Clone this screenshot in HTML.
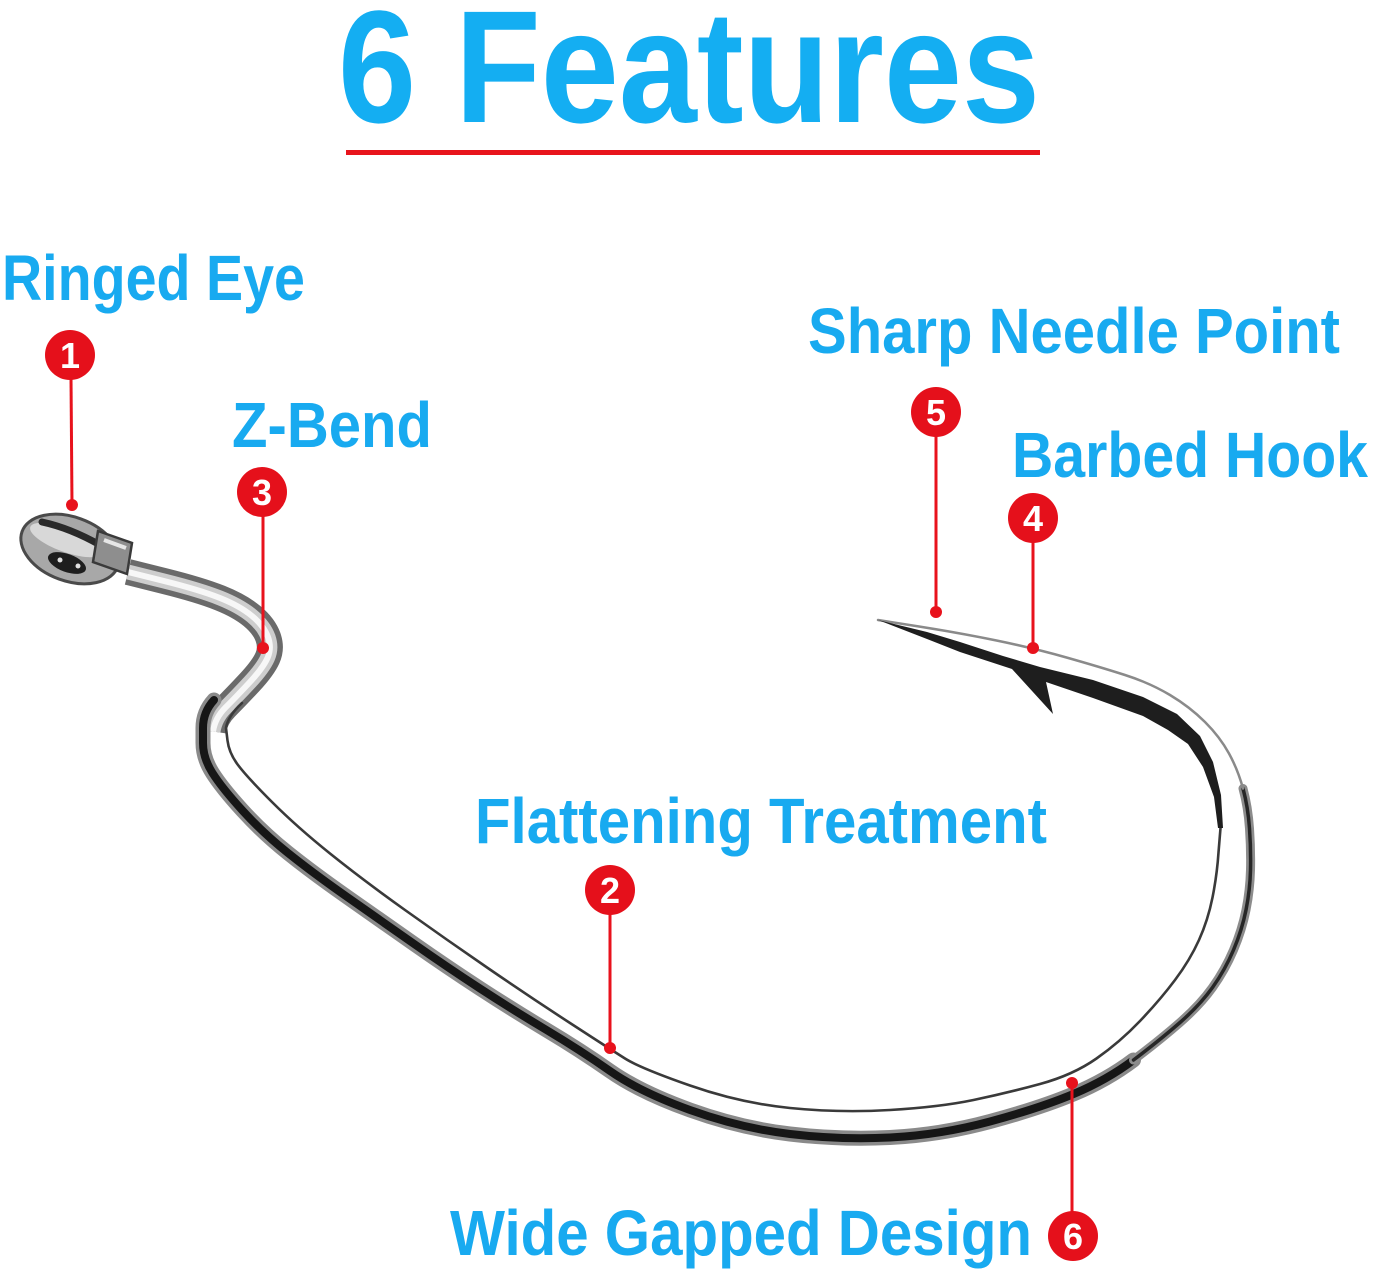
<!DOCTYPE html>
<html>
<head>
<meta charset="utf-8">
<style>
html,body{margin:0;padding:0;background:#fff;}
svg{display:block;}
</style>
</head>
<body>
<svg width="1373" height="1276" viewBox="0 0 1373 1276" xmlns="http://www.w3.org/2000/svg">
<rect x="0" y="0" width="1373" height="1276" fill="#ffffff"/>

<!-- Title -->
<text x="338" y="122" font-family="Liberation Sans, sans-serif" font-size="160" font-weight="bold" fill="#14aef2" textLength="702" lengthAdjust="spacingAndGlyphs">6 Features</text>
<rect x="346" y="150" width="694" height="5" fill="#e8141c"/>

<!-- Labels -->
<g font-family="Liberation Sans, sans-serif" font-size="64" font-weight="bold" fill="#18aaf0">
  <text x="2" y="300" textLength="303" lengthAdjust="spacingAndGlyphs">Ringed Eye</text>
  <text x="232" y="447" textLength="200" lengthAdjust="spacingAndGlyphs">Z-Bend</text>
  <text x="808" y="353" textLength="532" lengthAdjust="spacingAndGlyphs">Sharp Needle Point</text>
  <text x="1012" y="477" textLength="356" lengthAdjust="spacingAndGlyphs">Barbed Hook</text>
  <text x="475" y="843" textLength="572" lengthAdjust="spacingAndGlyphs">Flattening Treatment</text>
  <text x="450" y="1255" textLength="582" lengthAdjust="spacingAndGlyphs">Wide Gapped Design</text>
</g>

<!-- Hook: shank + Z-bend tube -->
<g fill="none" stroke-linecap="butt" stroke-linejoin="round">
  <path d="M128,572 L164,581 Q200,590 220,598 Q240,606 252,616 Q264,626 268,637 Q272,648 267.5,658 Q263,668 249.5,682.5 Q236,697 225.5,707.5 Q215,718 213,731.5" stroke="#6a6a6a" stroke-width="26"/>
  <path d="M128,572 L164,581 Q200,590 220,598 Q240,606 252,616 Q264,626 268,637 Q272,648 267.5,658 Q263,668 249.5,682.5 Q236,697 225.5,707.5 Q215,718 213,731.5" stroke="#cdcdcd" stroke-width="15"/>
  <path d="M128,572 L164,581 Q200,590 220,598 Q240,606 252,616 Q264,626 268,637 Q272,648 267.5,658 Q263,668 249.5,682.5 Q236,697 225.5,707.5 Q215,718 213,731.5" stroke="#f7f7f7" stroke-width="6"/>
</g>
<g fill="none" stroke-linecap="round" stroke-linejoin="round">
  <!-- outer band (descent + bottom) -->
  <path d="M214,700 Q203,712 203,728 L203,743 Q203,758 212.5,773 Q222,788 242.5,810.5 Q263,833 288,853 Q313,873 346.5,896.5 Q380,920 413.5,943.5 Q447,967 480,988.5 Q513,1010 546.5,1030 Q580,1050 610,1071 Q640,1092 690,1110 Q740,1128 790,1134 Q840,1140 890,1137.5 Q940,1135 990,1121.5 Q1040,1108 1073.5,1094 Q1107,1080 1133.5,1060" stroke="#8a8a8a" stroke-width="15"/>
  <path d="M214,700 Q203,712 203,728 L203,743 Q203,758 212.5,773 Q222,788 242.5,810.5 Q263,833 288,853 Q313,873 346.5,896.5 Q380,920 413.5,943.5 Q447,967 480,988.5 Q513,1010 546.5,1030 Q580,1050 610,1071 Q640,1092 690,1110 Q740,1128 790,1134 Q840,1140 890,1137.5 Q940,1135 990,1121.5 Q1040,1108 1073.5,1094 Q1107,1080 1133.5,1060" stroke="#161616" stroke-width="8"/>

  <!-- outer band right side -->
  <path d="M1133.5,1060 Q1160,1040 1180,1022.5 Q1200,1005 1212.5,987.5 Q1225,970 1233.5,950 Q1242,930 1246,910 Q1250,890 1250.5,870 Q1251,850 1249.5,828.5 Q1248,807 1243,788.5" stroke="#8c8c8c" stroke-width="9"/>
  <path d="M1133.5,1060 Q1160,1040 1180,1022.5 Q1200,1005 1212.5,987.5 Q1225,970 1233.5,950 Q1242,930 1246,910 Q1250,890 1250.5,870 Q1251,850 1249.5,828.5 Q1248,807 1243,788.5" stroke="#262626" stroke-width="3.5"/>

  <!-- upper thin line to point -->
  <path d="M1243,788.5 Q1238,770 1229,753.5 Q1220,737 1205,722 Q1190,707 1170,695 Q1150,683 1125,675 Q1100,667 1066.5,657.5 Q1033,648 996.5,640.5 Q960,633 919,626.5 L878,620" stroke="#8a8a8a" stroke-width="2.5"/>

  <!-- inner thin line -->
  <path d="M242,703 Q228,716 226,728 L227.5,740.5 Q229,753 238,765 Q247,777 272,802 Q297,827 330,853.5 Q363,880 405,910 Q447,940 488.5,968.5 Q530,997 570,1023 Q610,1049 625,1058.5 Q640,1068 690,1085.5 Q740,1103 790,1108 Q840,1113 890,1110 Q940,1107 973.5,1100 Q1007,1093 1040,1084 Q1073,1075 1096.5,1058.5 Q1120,1042 1140,1021 Q1160,1000 1175,980 Q1190,960 1199,940 Q1208,920 1212.5,897.5 Q1217,875 1218.5,852.5 L1221,822" stroke="#3a3a3a" stroke-width="2.6"/>
</g>

<!-- thick black band with barb near point -->
<path d="M878,620 L927,632 L960,642 L1003,656 L1040,667 L1093,680 L1143,697 L1177,714 L1200,736 L1213,762 L1221,795 L1223,828 L1218,828 L1214,797 L1203,767 L1188,744 L1168,730 L1143,716 L1093,698 L1046,682 L1053,714 L1012,669 L960,652 L927,639 Z" fill="#1e1e1e"/>

<!-- Eye -->
<g>
  <ellipse cx="70" cy="549" rx="51" ry="32" transform="rotate(20 70 549)" fill="#a8a8a8" stroke="#4a4a4a" stroke-width="3"/>
  <ellipse cx="66" cy="540" rx="38" ry="12" transform="rotate(20 66 540)" fill="#d8d8d8"/>
  <path d="M42,522 Q70,528 100,545" stroke="#2a2a2a" stroke-width="7" fill="none" stroke-linecap="round"/>
  <ellipse cx="67" cy="563" rx="20" ry="9" transform="rotate(20 67 563)" fill="#1e1e1e"/>
  <circle cx="60" cy="560" r="2.5" fill="#e0e0e0"/>
  <circle cx="78" cy="566" r="2.5" fill="#e0e0e0"/>
  <polygon points="98,531 132,543 127,574 93,562" fill="#8e8e8e" stroke="#3a3a3a" stroke-width="2.5"/>
  <path d="M104,540 L126,548" stroke="#e6e6e6" stroke-width="4"/>
</g>

<!-- Connectors -->
<g stroke="#e8121c" stroke-width="3">
  <line x1="71" y1="378" x2="72" y2="505"/>
  <line x1="263" y1="515" x2="263" y2="648"/>
  <line x1="936" y1="435" x2="936" y2="612"/>
  <line x1="1033" y1="541" x2="1033" y2="648"/>
  <line x1="610" y1="913" x2="610" y2="1048"/>
  <line x1="1072" y1="1212" x2="1072" y2="1083"/>
</g>
<g fill="#e8121c">
  <circle cx="72" cy="505" r="6"/>
  <circle cx="263" cy="648" r="6"/>
  <circle cx="936" cy="612" r="6"/>
  <circle cx="1033" cy="648" r="6"/>
  <circle cx="610" cy="1048" r="6"/>
  <circle cx="1072" cy="1083" r="6"/>
</g>

<!-- Number badges -->
<g fill="#e5101b">
  <circle cx="70" cy="355" r="25"/>
  <circle cx="262" cy="492" r="25"/>
  <circle cx="936" cy="412" r="25"/>
  <circle cx="1033" cy="518" r="25"/>
  <circle cx="610" cy="890" r="25"/>
  <circle cx="1073" cy="1236" r="25"/>
</g>
<g font-family="Liberation Sans, sans-serif" font-size="36" font-weight="bold" fill="#ffffff" text-anchor="middle">
  <text x="70" y="368">1</text>
  <text x="262" y="505">3</text>
  <text x="936" y="425">5</text>
  <text x="1033" y="531">4</text>
  <text x="610" y="903">2</text>
  <text x="1073" y="1249">6</text>
</g>
</svg>
</body>
</html>
